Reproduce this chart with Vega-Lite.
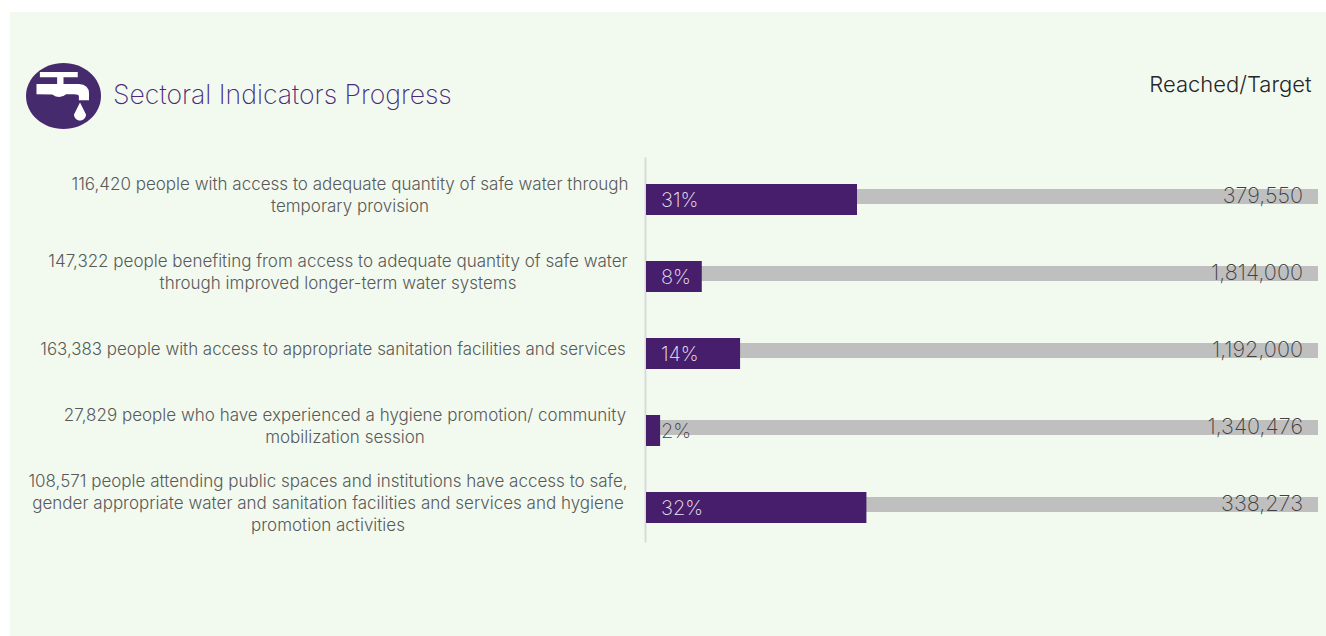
{
"$schema":"https://vega.github.io/schema/vega-lite/v6.json",
"width":1316,"height":624,"autosize":{"type":"none"},
"padding":{"left":10,"top":12,"right":0,"bottom":0},
"background":"#ffffff",
"view":{"fill":"#f2faf0","stroke":null},
"title":{"text":"Sectoral Indicators Progress","anchor":"start","frame":"group","dx":103,"offset":-110.5,"baseline":"middle","font":"Inter","fontWeight":200,"fontSize":26.6,"color":"#4b2a7b"},
"data":{"values":[
{"id":"a","label":"116,420 people with access to adequate quantity of safe water through\ntemporary provision","share":0.314,"base":0,"full":1,"pct":"31%","target":"379,550"},
{"id":"b","label":"147,322 people benefiting from access to adequate quantity of safe water\nthrough improved longer-term water systems","share":0.083,"base":0,"full":1,"pct":"8%","target":"1,814,000"},
{"id":"c","label":"163,383 people with access to appropriate sanitation facilities and services","share":0.14,"base":0,"full":1,"pct":"14%","target":"1,192,000"},
{"id":"d","label":"27,829 people who have experienced a hygiene promotion/ community\nmobilization session","share":0.021,"base":0,"full":1,"pct":"2%","target":"1,340,476"},
{"id":"e","label":"108,571 people attending public spaces and institutions have access to safe,\ngender appropriate water and sanitation facilities and services and hygiene\npromotion activities","share":0.328,"base":0,"full":1,"pct":"32%","target":"338,273"}
]},
"encoding":{
"y":{"field":"id","type":"nominal","sort":null,"title":null,"scale":{"range":[145,530],"paddingInner":0,"paddingOuter":0},
"axis":{"labels":false,"ticks":false,"grid":false,"domain":true,"domainColor":"#d9d9d9","domainWidth":2,"offset":-635,"title":null}}
},
"layer":[
{"mark":{"type":"bar","height":15,"yOffset":1,"color":"#bfbfbf"},
 "encoding":{"x":{"field":"base","type":"quantitative","scale":{"domain":[0,1],"range":[636,1308]},
   "axis":{"orient":"top","labels":false,"ticks":false,"grid":false,"domain":false,"title":"Reached/Target","titleX":1301,"titleY":72,"titleAlign":"right","titleBaseline":"middle","titleFont":"Inter","titleFontWeight":300,"titleFontSize":22,"titleColor":"#262626"}},
   "x2":{"field":"full"}}},
{"mark":{"type":"bar","height":31,"yOffset":4,"color":"#461e6b"},
 "encoding":{"x":{"field":"base","type":"quantitative"},"x2":{"field":"share"}}},
{"mark":{"type":"text","align":"left","baseline":"middle","dx":15,"dy":5,"font":"Inter","fontWeight":200,"fontSize":20,"letterSpacing":-0.3},
 "encoding":{"x":{"field":"base","type":"quantitative"},"text":{"field":"pct"},
  "color":{"condition":{"test":"datum.share<0.05","value":"#404040"},"value":"#f0e6f5"}}},
{"mark":{"type":"text","align":"right","baseline":"middle","dx":-15,"dy":1,"font":"Inter","fontWeight":200,"fontSize":21.6,"color":"#404040"},
 "encoding":{"x":{"field":"full","type":"quantitative"},"text":{"field":"target"}}},
{"transform":[{"filter":"datum.id=='a'"}],"mark":{"type":"text","align":"center","baseline":"middle","lineBreak":"\n","lineHeight":22,"dx":-296,"dy":-10.5,"font":"Inter","fontWeight":300,"fontSize":17,"color":"#595959"},
 "encoding":{"x":{"field":"base","type":"quantitative"},"text":{"field":"label"}}},
{"transform":[{"filter":"datum.id=='b'"}],"mark":{"type":"text","align":"center","baseline":"middle","lineBreak":"\n","lineHeight":22,"dx":-308,"dy":-10.5,"font":"Inter","fontWeight":300,"fontSize":17,"color":"#595959"},
 "encoding":{"x":{"field":"base","type":"quantitative"},"text":{"field":"label"}}},
{"transform":[{"filter":"datum.id=='c'"}],"mark":{"type":"text","align":"center","baseline":"middle","lineBreak":"\n","lineHeight":22,"dx":-313,"dy":0.5,"font":"Inter","fontWeight":300,"fontSize":16.9,"color":"#595959"},
 "encoding":{"x":{"field":"base","type":"quantitative"},"text":{"field":"label"}}},
{"transform":[{"filter":"datum.id=='d'"}],"mark":{"type":"text","align":"center","baseline":"middle","lineBreak":"\n","lineHeight":22,"dx":-301,"dy":-10.5,"font":"Inter","fontWeight":300,"fontSize":17,"color":"#595959"},
 "encoding":{"x":{"field":"base","type":"quantitative"},"text":{"field":"label"}}},
{"transform":[{"filter":"datum.id=='e'"}],"mark":{"type":"text","align":"center","baseline":"middle","lineBreak":"\n","lineHeight":22,"dx":-318,"dy":-21.5,"font":"Inter","fontWeight":300,"fontSize":17,"color":"#595959"},
 "encoding":{"x":{"field":"base","type":"quantitative"},"text":{"field":"label"}}},
{"data":{"values":[{"icon":"disc"}]},
 "mark":{"type":"point","filled":true,"opacity":1,"size":5625,"color":"#462a6e","shape":"M-1,0A1,0.88,0,1,1,1,0A1,0.88,0,1,1,-1,0Z"},
 "encoding":{"y":{"value":84},"x":{"value":53.5}}},
{"data":{"values":[{"icon":"tap"}]},
 "mark":{"type":"point","filled":true,"opacity":1,"size":5625,"color":"#ffffff","shape":"M-0.63,-0.64L0.38,-0.64L0.38,-0.5L-0.63,-0.5ZM-0.17,-0.5L0,-0.5L0,-0.32L-0.17,-0.32ZM-0.72,-0.32L0.41,-0.32Q0.68,-0.3,0.68,-0.07L0.68,0.11L0.41,0.11L0.41,0Q0.4,-0.05,0.29,-0.05L0.07,-0.05Q-0.1,0.1,-0.3,-0.04L-0.72,-0.05ZM0.44,0.17L0.6,0.49A0.16,0.16,0,1,1,0.28,0.49Z"},
 "encoding":{"y":{"value":84},"x":{"value":53.5}}}
]
}
